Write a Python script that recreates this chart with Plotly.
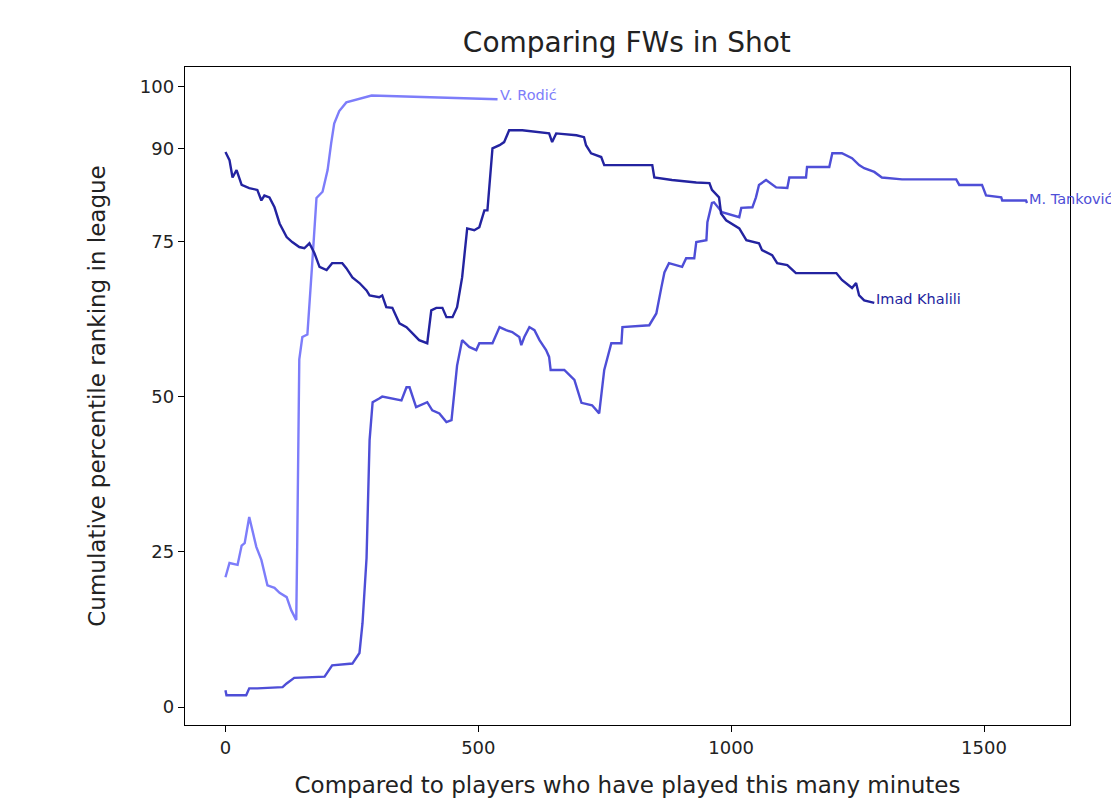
import plotly.graph_objects as go

# V. Rodić
rodic_x = [0, 8, 24, 32, 38, 47, 61, 71, 83, 97, 107, 121, 130, 140, 142, 146, 152, 162, 172, 180, 192, 202, 209, 215, 225, 239, 289, 538]
rodic_y = [20.9, 23.2, 22.9, 26.0, 26.4, 30.6, 25.8, 23.7, 19.6, 19.2, 18.4, 17.7, 15.6, 14.0, 26.9, 56.0, 59.6, 60.0, 72.0, 82.0, 83.0, 86.5, 90.8, 94.0, 96.0, 97.4, 98.5, 97.9]

# M. Tanković
tank_x = [0, 2, 41, 47, 63, 113, 121, 136, 196, 211, 251, 265, 271, 279, 285, 291, 304, 310, 348, 358, 364, 377, 399, 409, 423, 437, 447, 453, 458, 468, 482, 496, 502, 528, 542, 555, 567, 581, 585, 591, 601, 611, 621, 634, 640, 643, 670, 690, 704, 725, 739, 749, 763, 783, 785, 838, 852, 862, 868, 877, 903, 911, 927, 931, 951, 953, 962, 966, 982, 1016, 1020, 1042, 1049, 1055, 1069, 1089, 1111, 1115, 1148, 1150, 1194, 1200, 1219, 1239, 1253, 1263, 1283, 1298, 1338, 1445, 1451, 1496, 1504, 1534, 1536, 1583, 1585]
tank_y = [2.7, 1.9, 1.9, 3.0, 3.0, 3.2, 3.8, 4.7, 4.9, 6.7, 7.0, 8.7, 13.5, 24.0, 43.0, 49.1, 49.7, 50.0, 49.4, 51.5, 51.5, 48.3, 49.1, 47.8, 47.3, 45.9, 46.2, 50.6, 55.0, 59.1, 58.0, 57.5, 58.6, 58.6, 61.2, 60.7, 60.4, 59.6, 58.3, 59.6, 61.2, 60.7, 59.1, 57.5, 56.4, 54.3, 54.3, 52.7, 49.0, 48.6, 47.3, 54.3, 58.6, 58.6, 61.2, 61.5, 63.4, 67.6, 70.0, 71.5, 70.9, 72.3, 72.3, 74.9, 75.2, 78.1, 81.2, 81.3, 79.7, 78.9, 80.4, 80.5, 82.1, 84.1, 84.9, 83.7, 83.6, 85.3, 85.3, 87.0, 87.0, 89.2, 89.2, 88.4, 87.3, 86.8, 86.2, 85.3, 85.0, 85.0, 84.1, 84.1, 82.4, 82.1, 81.6, 81.6, 81.2]

# Imad Khalili
khal_x = [0, 8, 14, 22, 32, 47, 63, 71, 77, 87, 97, 107, 121, 132, 146, 156, 166, 176, 186, 200, 211, 231, 239, 251, 265, 279, 285, 304, 310, 318, 330, 344, 358, 370, 383, 399, 407, 417, 429, 437, 449, 458, 468, 478, 492, 502, 512, 518, 528, 542, 551, 561, 587, 640, 646, 654, 694, 709, 713, 723, 743, 749, 844, 848, 883, 931, 957, 962, 976, 980, 990, 1016, 1030, 1055, 1061, 1081, 1091, 1111, 1128, 1208, 1219, 1239, 1247, 1253, 1263, 1283]
khal_y = [89.4, 88.1, 85.3, 86.5, 84.1, 83.6, 83.3, 81.6, 82.4, 82.1, 80.5, 77.9, 75.7, 74.9, 74.1, 73.9, 74.7, 73.1, 70.9, 70.4, 71.5, 71.5, 70.7, 69.2, 68.3, 67.1, 66.3, 66.0, 66.3, 64.4, 64.3, 61.8, 61.2, 60.2, 59.1, 58.6, 63.9, 64.3, 64.3, 62.8, 62.8, 64.4, 69.2, 77.1, 76.8, 77.3, 80.0, 80.0, 90.0, 90.5, 91.0, 92.9, 92.9, 92.4, 91.0, 92.4, 92.1, 91.8, 90.5, 89.2, 88.6, 87.3, 87.3, 85.3, 84.9, 84.5, 84.4, 83.3, 82.1, 79.5, 78.4, 77.1, 75.2, 74.7, 73.6, 72.8, 71.5, 71.2, 69.9, 69.9, 68.8, 67.5, 68.3, 66.3, 65.5, 65.1]

names = ["V. Rodić", "M. Tanković", "Imad Khalili"]
colors = ["rgb(125,125,250)", "rgb(78,78,215)", "rgb(35,35,160)"]
series = [(rodic_x, rodic_y), (tank_x, tank_y), (khal_x, khal_y)]

y_ticks = [0, 25, 50, 75, 90, 100]
x_ticks = [0, 500, 1000, 1500]

fig = go.Figure()
for (xs, ys), name, col in zip(series, names, colors):
    fig.add_trace(go.Scatter(x=xs, y=ys, mode="lines", name=name,
                             line=dict(color=col, width=2.4), showlegend=False))
    fig.add_annotation(x=xs[-1], y=ys[-1], text=name, showarrow=False,
                       xanchor="left", yanchor="middle", xshift=0, yshift=4,
                       font=dict(size=14.5, color=col, family="DejaVu Sans"))

axis_common = dict(showline=True, linecolor="black", linewidth=1.4, mirror=True,
                   ticks="outside", ticklen=6, tickcolor="black", showgrid=False,
                   zeroline=False, tickfont=dict(size=18, color="#222"))

fig.update_layout(
    width=1119, height=805,
    margin=dict(l=177, r=57, t=59, b=88),
    paper_bgcolor="white", plot_bgcolor="white",
    font=dict(family="DejaVu Sans", color="#222"),
    title=dict(text="Comparing FWs in Shot", x=0.553, xanchor="center", y=0.958,
               yanchor="middle", font=dict(size=28, color="#222")),
    xaxis=dict(range=[-80, 1670], tickvals=x_ticks, ticktext=[str(v) for v in x_ticks],
               title=dict(text="Compared to players who have played this many minutes",
                          font=dict(size=23), standoff=20), **axis_common),
    yaxis=dict(range=[-2.9, 103.1], tickvals=y_ticks, ticktext=[str(v) for v in y_ticks],
               title=dict(text="Cumulative percentile ranking in league",
                          font=dict(size=23), standoff=27), **axis_common),
)

fig.write_html("out.html")
